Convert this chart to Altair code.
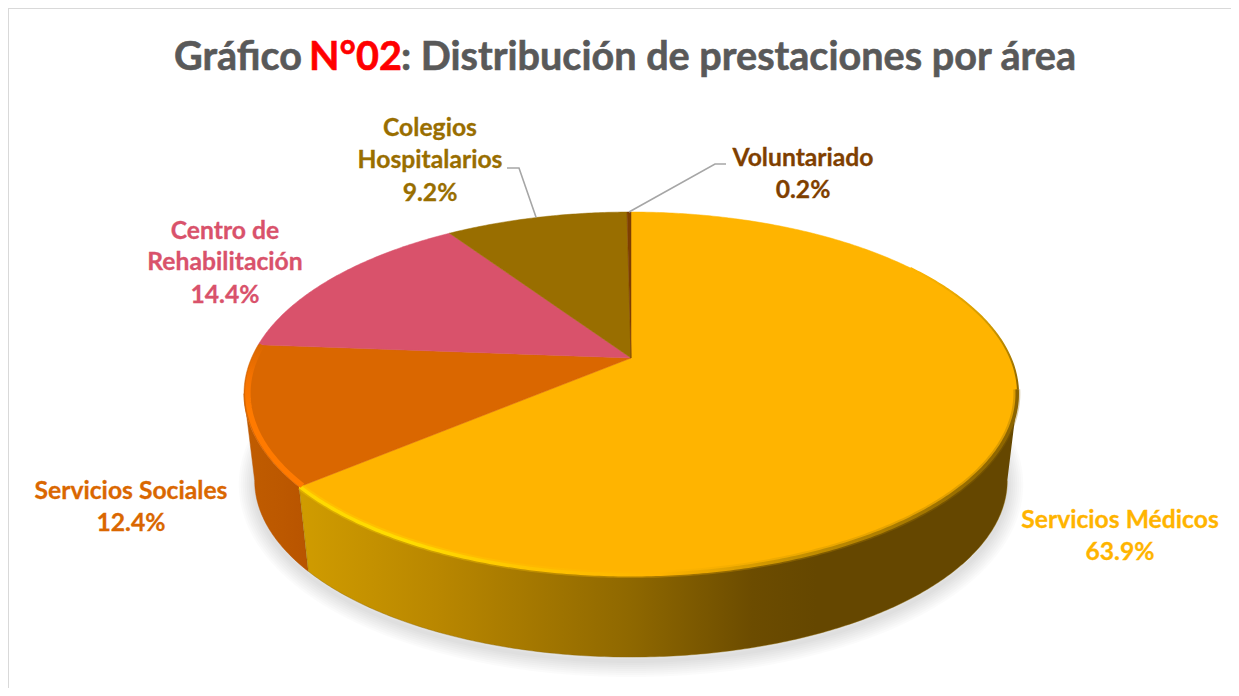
import math
import altair as alt
import pandas as pd

# ---- chart values ----
categories = ["Servicios Médicos", "Servicios Sociales", "Centro de Rehabilitación", "Colegios Hospitalarios", "Voluntariado"]
shares = [63.9, 12.4, 14.4, 9.2, 0.2]
face_colors = ["#FFB400", "#DA6700", "#D9526B", "#996E00", "#7F3F00"]

title_parts = ["Gráfico", "N°02", ": Distribución de prestaciones por área"]
label_lines = ["Servicios Médicos", "63.9%", "Servicios Sociales", "12.4%", "Centro de", "Rehabilitación", "14.4%",
               "Colegios", "Hospitalarios", "9.2%", "Voluntariado", "0.2%"]
label_cats = [0, 0, 1, 1, 2, 2, 2, 3, 3, 3, 4, 4]

# ---- layout (page pixels) ----
W, H = 1223, 680
CX = 631
TOP = dict(cy=358, rx=379.5, ry=174.6, k=0.196)
LOW = dict(cy=446, rx=369.0, ry=169.7, k=0.196)
label_x = [1120, 1120, 131, 131, 225, 225, 225, 430, 430, 430, 803, 803]
label_y = [521, 553, 492, 524, 232, 263, 296, 129, 161, 194, 159, 191]
title_x = [174, 309, 401]
title_y = 57.5
title_size = 39.6
label_size = 24.7
label_font = "Lato"

total = sum(shares)
cum = [0.0]
for s in shares:
    cum.append(cum[-1] + s)


def ang(c):
    return 2 * math.pi * c / total


def proj(t, g, scale=1.0, dy=0.0):
    w = 1 / (1 + g["k"] * math.cos(t))
    return CX + scale * g["rx"] * math.sin(t) * w, g["cy"] + dy - scale * g["ry"] * math.cos(t) * w


def arc(a, b, g, scale=1.0, dy=0.0, step=0.01):
    n = max(2, int(abs(b - a) / step))
    return [proj(a + (b - a) * i / n, g, scale, dy) for i in range(n + 1)]


xs = alt.X("x:Q", scale=alt.Scale(domain=[8, 8 + W], range=[0, W]), axis=None)
ys = alt.Y("y:Q", scale=alt.Scale(domain=[8, 8 + H], range=[0, H]), axis=None)


def shape(points, **mark):
    df = pd.DataFrame({"x": [p[0] for p in points], "y": [p[1] for p in points], "i": range(len(points))})
    return alt.Chart(df).mark_line(**mark).encode(x=xs, y=ys, order="i:Q")


def grad(stops, horizontal=True):
    return alt.LinearGradient(
        gradient="linear",
        x1=0, y1=0, x2=1 if horizontal else 0, y2=0 if horizontal else 1,
        stops=[alt.GradientStop(offset=o, color=c) for o, c in stops],
    )


layers = []

# frame
layers.append(alt.Chart(pd.DataFrame({"a": [0]})).mark_rule(color="#D9D9D9", strokeWidth=2).encode(
    x=alt.value(0), x2=alt.value(W), y=alt.value(0)))
layers.append(alt.Chart(pd.DataFrame({"a": [0]})).mark_rule(color="#D9D9D9", strokeWidth=2).encode(
    x=alt.value(0), y=alt.value(0), y2=alt.value(H)))

# soft shadow under the disc
ring = arc(0, 2 * math.pi, LOW, dy=4)
for width in (32, 28, 24, 20, 16, 12, 8, 4):
    layers.append(shape(ring, stroke="#000000", strokeWidth=width, strokeOpacity=0.016, strokeJoin="round"))

# side walls, cut at the disc's left and right silhouette
t0, t1, t2 = ang(cum[0]), ang(cum[1]), ang(cum[2])
sil_r = math.acos(-TOP["k"])
sil_l = 2 * math.pi - sil_r
wall_gold = arc(sil_r, t1, TOP) + arc(t1, sil_r, LOW)
wall_orange = arc(t1, sil_l, TOP) + arc(sil_l, t1, LOW)
layers.append(shape(wall_orange, filled=True, fill=grad([(0, "#C05C00"), (0.6, "#BC5800"), (1, "#B85400")]), stroke="#B85400", strokeWidth=0.5))
layers.append(shape(wall_gold, filled=True, stroke="#8A6500", strokeWidth=0.4, fill=grad([
    (0, "#D09C00"), (0.2, "#B88600"), (0.46, "#8F6800"), (0.63, "#6C4C00"), (0.72, "#654700"), (1, "#654700")])))

# top face slices
for i, col in enumerate(face_colors):
    pts = [(CX, TOP["cy"])] + arc(ang(cum[i]), ang(cum[i + 1]), TOP) + [(CX, TOP["cy"])]
    layers.append(shape(pts, filled=True, fill=col, stroke=col, strokeWidth=0.5))

# bevel highlights on the rim
t_a, t_b = math.radians(55), math.radians(100)
layers.append(shape(arc(t_a, t_b, TOP), stroke=grad([(0, "#FFB400"), (0.45, "#D09A00"), (1, "#8A6300")], horizontal=False), strokeWidth=2))
rim_stops = [(0, "#FFD800"), (0.15, "#FFDC00"), (0.32, "#FFC400"), (0.5, "#FFB400"), (0.68, "#C89200"), (1, "#8A6300")]
layers.append(shape(arc(t_b, t1, TOP, scale=0.997), stroke=grad(rim_stops), strokeWidth=7, strokeOpacity=0.3))
layers.append(shape(arc(t_b, t1, TOP, scale=0.998), stroke=grad(rim_stops), strokeWidth=3.5))
rim_orange = arc(t1, t2, TOP, scale=0.99)
layers.append(shape(rim_orange, stroke=grad([(0, "#DA6700"), (0.22, "#F47200"), (0.45, "#FF7A00"), (1, "#FF7A00")], horizontal=False), strokeWidth=5.5))

# leader lines
mid3 = proj(ang((cum[3] + cum[4]) / 2), TOP)
mid4 = proj(ang((cum[4] + cum[5]) / 2), TOP)
layers.append(shape([(507, 168), (519, 168), mid3], stroke="#A6A6A6", strokeWidth=1.6))
layers.append(shape([(726, 164), (715, 164), mid4], stroke="#A6A6A6", strokeWidth=1.6))

# category labels
labels = pd.DataFrame({
    "x": label_x, "y": label_y, "t": label_lines,
    "c": [face_colors[i] for i in label_cats],
})
layers.append(alt.Chart(labels).mark_text(font=label_font, fontWeight="bold", fontSize=label_size, baseline="middle", align="center", strokeWidth=0.3).encode(
    x=xs, y=ys, text="t:N", color=alt.Color("c:N", scale=None), stroke=alt.Stroke("c:N", scale=None)))

# title
title = pd.DataFrame({"x": title_x, "y": [title_y] * 3, "t": title_parts, "c": ["#595959", "#FF0000", "#595959"]})
layers.append(alt.Chart(title).mark_text(font=label_font, fontWeight="bold", fontSize=title_size, baseline="middle", align="left", strokeWidth=0.6).encode(
    x=xs, y=ys, text="t:N", color=alt.Color("c:N", scale=None), stroke=alt.Stroke("c:N", scale=None)))

chart = alt.layer(*layers).properties(
    width=W, height=H, padding=0, autosize=alt.AutoSizeParams(type="none"), background="white"
).configure_view(stroke=None)

chart.save("out.html", embed_options={"renderer": "svg", "actions": False})
